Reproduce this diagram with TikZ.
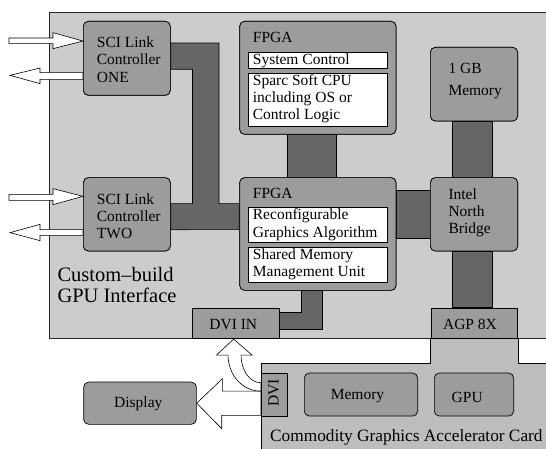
\documentclass[tikz,border=0pt]{standalone}
\usepackage{fontspec}
\setmainfont{Liberation Serif}
\usetikzlibrary{calc}
\definecolor{boardgray}{HTML}{CCCCCC}
\definecolor{cardgray}{HTML}{BDBDBD}
\definecolor{unitgray}{HTML}{9C9C9C}
\definecolor{busgray}{HTML}{666666}
\begin{document}
\begin{tikzpicture}[x=1pt, y=-1pt,
  board/.style={draw=black!85, line width=0.7pt, fill=boardgray, inner sep=0pt, anchor=north west},
  unit/.style={draw=black, line width=0.7pt, fill=unitgray, rounded corners=5pt, inner sep=0pt, anchor=north west},
  port/.style={draw=black, line width=0.7pt, fill=unitgray, inner sep=0pt, anchor=north west},
  part/.style={draw=black, line width=0.7pt, fill=white, inner sep=0pt, anchor=north west},
  bus/.style={draw=black, line width=0.7pt, fill=busgray},
  hollow/.style={draw=black, line width=0.6pt, fill=white, line join=miter},
  % multi-line labels are placed by the baseline of their last line
  txt/.style={inner sep=0pt, align=left, anchor=base west, font=\fontsize{15.5}{17.3}\selectfont},
  ctxt/.style={inner sep=0pt, anchor=base, font=\fontsize{15.5}{17.3}\selectfont},
]
\useasboundingbox (0,0) rectangle (546,449);
\clip (0,0) rectangle (546,449);

% interface board and the accelerator card
\node[board, minimum width=560pt, minimum height=325.2pt] (board) at (49,12.3) {};
\node[port, minimum width=86.8pt, minimum height=30.5pt] (agp) at (430.5,307.5) {};
\coordinate (cardtl) at (261,363.5);
\draw[line width=0.7pt, fill=cardgray] (cardtl) -- (cardtl -| agp.south west) -- (agp.south west)
  -- (agp.south east) -- (agp.south east |- cardtl) -- (600,363.5) -- (600,470) -- (261,470) -- cycle;

% units (outlines only, text set below)
\node[unit, minimum width=87pt, minimum height=74pt] (sci1) at (83,21) {};
\node[unit, minimum width=87pt, minimum height=73.4pt] (sci2) at (83,177.3) {};
\node[unit, minimum width=156.4pt, minimum height=113pt] (fpga1) at (239.3,21) {};
\node[unit, minimum width=156.4pt, minimum height=112.7pt] (fpga2) at (239.3,177.3) {};
\node[unit, minimum width=87.3pt, minimum height=73.7pt] (mem) at (430,47) {};
\node[unit, minimum width=87.3pt, minimum height=73.4pt] (nb) at (430,177.3) {};
\node[port, minimum width=86.8pt, minimum height=30pt] (dviin) at (191.7,307.5) {};

% data paths
\draw[bus] ($(sci1.east)+(0,-15.3)$) -- ++(48.3,0) |- ($(fpga2.west)+(0,-30.35)$)
  -- ($(fpga2.west)+(0,-4.35)$) -- ($(sci2.east)+(0,15.3)$) -- ($(sci2.east)+(0,-10.7)$)
  -- ++(21.7,0) |- ($(sci1.east)+(0,11)$) -- cycle;
\draw[bus] ($(fpga1.south)+(-30.2,0)$) rectangle ($(fpga2.north)+(18.5,0)$);
\draw[bus] ($(fpga2.east)+(0,-43.65)$) rectangle ($(nb.west)+(0,24.3)$);
\draw[bus] ($(mem.south)+(-22,0)$) rectangle ($(nb.north)+(18,0)$);
\draw[bus] ($(nb.south)+(-22,0)$) rectangle ($(agp.north)+(18,0)$);
\draw[bus] ($(fpga2.south)+(-16.8,0)$) -- ($(fpga2.south)+(4.8,0)$) |- ($(dviin.east)+(0,6.9)$)
  -- ($(dviin.east)+(0,-10.7)$) -| ($(fpga2.south)+(-16.8,0)$) -- cycle;

% redraw the units on top of the paths
\node[unit, minimum width=87pt, minimum height=74pt] at (83,21) {};
\node[unit, minimum width=87pt, minimum height=73.4pt] at (83,177.3) {};
\node[unit, minimum width=156.4pt, minimum height=113pt] at (239.3,21) {};
\node[unit, minimum width=156.4pt, minimum height=112.7pt] at (239.3,177.3) {};
\node[unit, minimum width=87.3pt, minimum height=73.7pt] at (430,47) {};
\node[unit, minimum width=87.3pt, minimum height=73.4pt] at (430,177.3) {};
\node[port, minimum width=86.8pt, minimum height=30pt] at (191.7,307.5) {};
\node[port, minimum width=86.8pt, minimum height=30.5pt] at (430.5,307.5) {};

% FPGA sub-blocks
\node[part, minimum width=139pt, minimum height=16.6pt] (sysctl) at (248.3,51.7) {};
\node[part, minimum width=139pt, minimum height=52.4pt] (cpu) at (248.3,73.3) {};
\node[part, minimum width=139pt, minimum height=35pt] (recon) at (248.3,207.3) {};
\node[part, minimum width=139pt, minimum height=35pt] (smmu) at (248.3,246.7) {};

% card parts and display
\node[unit, minimum width=113.3pt, minimum height=43pt] (cardmem) at (304,372.7) {};
\node[unit, minimum width=79.3pt, minimum height=43pt] (gpu) at (434,372.7) {};
\node[unit, minimum width=112.7pt, minimum height=42.3pt] (display) at (83.3,381.7) {};

% external SCI links
\draw[hollow] ($(sci1.west)+(0,-17.3)$) -- ++(-30,-8.4) -- ++(0,5.4) -- ++(-44,0) -- ++(0,5.6)
  -- ++(44,0) -- ++(0,5) -- cycle;
\draw[hollow] ($(sci1.west)+(-73,17)$) -- ++(30,-7.3) -- ++(0,4.6) -- ++(43,0) -- ++(0,6.7)
  -- ++(-43,0) -- ++(0,4.3) -- cycle;
\draw[hollow] ($(sci2.west)+(0,-18)$) -- ++(-30,-7.7) -- ++(0,5.7) -- ++(-44,0) -- ++(0,6)
  -- ++(44,0) -- ++(0,4.3) -- cycle;
\draw[hollow] ($(sci2.west)+(-73,18.3)$) -- ++(30,-8.3) -- ++(0,5.3) -- ++(43,0) -- ++(0,5.7)
  -- ++(-43,0) -- ++(0,5.3) -- cycle;

% DVI outputs
\node[port, minimum width=26.3pt, minimum height=43pt] (dvi) at (261,372.7) {};
\draw[hollow] (display.east) -- ++(25.7,-24.5) -- ++(0,12.4) -- ($(dvi.west)+(0,-3.5)$)
  -- ($(dvi.west)+(0,20.8)$) -- ++(-39.3,0) -- ++(0,13.3) -- cycle;
\coordinate (tip) at ($(dviin.south)+(-1.8,0.9)$);
\draw[hollow] (tip) -- ($(tip)+(18.4,16)$) -- ($(tip)+(7.4,16)$)
  .. controls ($(tip)+(7.4,31.5)$) and ($(tip)+(16.5,44)$) .. ($(dvi.west)+(0,-11.9)$)
  -- ($(dvi.west)+(0,-3.5)$)
  .. controls ($(tip)+(9.3,52.4)$) and ($(tip)+(-5.6,36.1)$) .. ($(tip)+(-5.6,16)$)
  -- ($(tip)+(-17.3,16)$) -- cycle;
\node[port, minimum width=26.3pt, minimum height=43pt] at (261,372.7) {};

% labels
\node[txt] (sci1t) at (96.7,82.2) {SCI Link\\Controller\\ONE};
\node[txt] (sci2t) at (96.7,238.9) {SCI Link\\Controller\\TWO};
\node[txt] (fpga1t) at (252.7,42.7) {FPGA};
\node[txt] (sysctlt) at (252.7,64.3) {System Control};
\node[txt, font=\fontsize{15.5}{17}\selectfont] (cput) at (252.7,120) {Sparc Soft CPU\\including OS or\\Control Logic};
\node[txt] (fpga2t) at (252.7,198.7) {FPGA};
\node[txt] (recont) at (252.7,237.3) {Reconfigurable\\Graphics Algorithm};
\node[txt] (smmut) at (252.7,276.6) {Shared Memory\\Management Unit};
\node[txt, font=\fontsize{15.5}{22}\selectfont] (memt) at (448.3,96) {1 GB\\Memory};
\node[txt, font=\fontsize{15.5}{17}\selectfont] (nbt) at (448.3,233.3) {Intel\\North\\Bridge};
\node[ctxt] (agpt) at (470,329) {AGP 8X};
\node[ctxt] (dviint) at (233.3,329) {DVI IN};
\node[inner sep=0pt, rotate=90, font=\fontsize{15.5}{17.3}\selectfont] (dvit) at (273.7,393) {DVI};
\node[ctxt] (cardmemt) at (357.5,399) {Memory};
\node[ctxt] (gput) at (467.2,402.8) {GPU};
\node[ctxt] (displayt) at (138.3,407.8) {Display};
\node[txt, font=\fontsize{20.5}{20.6}\selectfont] (customt) at (57.3,302.3) {Custom--build\\GPU Interface};
\node[txt, font=\fontsize{17.3}{20}\selectfont] (cardt) at (270,441.7) {Commodity Graphics Accelerator Card};
\end{tikzpicture}
\end{document}
